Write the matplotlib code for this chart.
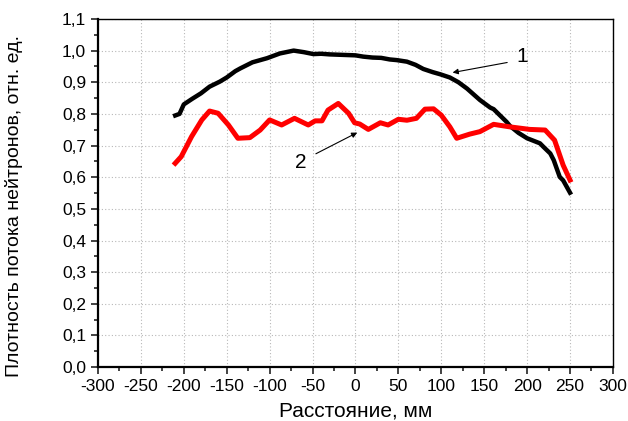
import matplotlib.pyplot as plt
from matplotlib.ticker import MultipleLocator, FuncFormatter

plt.rcParams['font.family'] = ['Liberation Sans', 'DejaVu Sans']
plt.rcParams['axes.unicode_minus'] = False

# curve 1 (black)
x1 = [-210, -205, -200, -190, -180, -170, -158, -150, -140, -134, -120, -103, -88, -72,
      -60, -49, -40, -30, -20, -10, 0, 9, 20, 30, 40, 48, 60, 70, 79, 90, 99, 110,
      120, 130, 145, 157, 161, 176, 180, 190, 200, 215, 219, 227, 231, 238, 242, 250]
y1 = [0.795, 0.800, 0.830, 0.848, 0.865, 0.886, 0.902, 0.915, 0.935, 0.944, 0.963, 0.976, 0.991, 1.000,
      0.995, 0.989, 0.990, 0.988, 0.987, 0.986, 0.985, 0.981, 0.978, 0.977, 0.972, 0.970, 0.965, 0.955, 0.942, 0.932, 0.925, 0.915,
      0.900, 0.880, 0.844, 0.820, 0.815, 0.775, 0.762, 0.740, 0.723, 0.707, 0.696, 0.675, 0.654, 0.601, 0.590, 0.551]

# curve 2 (red)
x2 = [-210, -203, -191, -179, -170, -160, -148, -137, -123, -111, -100, -86, -71, -55, -47,
      -39, -32, -20, -8, -1, 5, 15, 29, 38, 50, 60, 71, 81, 91, 100, 110, 118, 133,
      145, 161, 180, 203, 221, 232, 242, 250]
y2 = [0.644, 0.665, 0.728, 0.781, 0.809, 0.802, 0.765, 0.723, 0.725, 0.749, 0.781, 0.765, 0.786, 0.765, 0.778,
      0.778, 0.812, 0.833, 0.802, 0.772, 0.768, 0.751, 0.772, 0.765, 0.783, 0.780, 0.786, 0.815, 0.816, 0.796, 0.759, 0.723, 0.736,
      0.744, 0.767, 0.759, 0.751, 0.749, 0.717, 0.638, 0.591]

fig = plt.figure(figsize=(6.28, 4.21), dpi=100)
ax = fig.add_axes([0.156, 0.128, 0.820, 0.827])

ax.plot(x1, y1, color='black', lw=3.2, solid_joinstyle='round', zorder=3)
ax.plot(x2, y2, color='#ff0000', lw=3.6, solid_joinstyle='round', zorder=3)

ax.set_xlim(-300, 300)
ax.set_ylim(0, 1.1)
ax.xaxis.set_major_locator(MultipleLocator(50))
ax.xaxis.set_minor_locator(MultipleLocator(25))
ax.yaxis.set_major_locator(MultipleLocator(0.1))
ax.yaxis.set_minor_locator(MultipleLocator(0.05))
ax.yaxis.set_major_formatter(FuncFormatter(lambda v, p: f"{v:.1f}".replace('.', ',')))

ax.grid(True, which='major', color='#b8b8b8', ls=(0, (1, 2)), lw=0.8)
ax.tick_params(which='major', direction='out', length=5, width=1.2, labelsize=12.5, color='#222222')
ax.tick_params(which='minor', direction='out', length=3, width=1.2, color='#222222')
for s in ax.spines.values():
    s.set_linewidth(1.0)
ax.spines['left'].set_linewidth(1.6)
ax.spines['bottom'].set_linewidth(1.6)

ax.set_xlabel('Расстояние, мм', fontsize=15)
ax.xaxis.set_label_coords(0.5, -0.1)
ax.xaxis.label.set_va('top')
ax.set_ylabel('Плотность потока нейтронов, отн. ед.', fontsize=14)
ax.yaxis.set_label_coords(-0.146, 0.463)

ax.annotate('', xy=(110, 0.929), xytext=(180, 0.964),
            arrowprops=dict(arrowstyle='-|>', color='black', lw=0.8, mutation_scale=8))
ax.text(194, 0.98, '1', fontsize=15, ha='center', va='center')
ax.annotate('', xy=(5, 0.745), xytext=(-49, 0.670),
            arrowprops=dict(arrowstyle='-|>', color='black', lw=0.8, mutation_scale=8))
ax.text(-64, 0.648, '2', fontsize=15, ha='center', va='center')

fig.savefig('out.png', dpi=100)
